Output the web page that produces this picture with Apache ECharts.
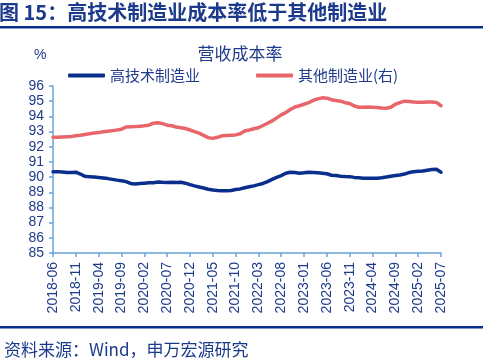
<!DOCTYPE html>
<html><head><meta charset="utf-8">
<script src="https://cdn.jsdelivr.net/npm/echarts@6/dist/echarts.min.js"></script>
<style>html,body{margin:0;padding:0;background:#fff}#c{width:488px;height:358px}</style>
</head><body><div id="c"></div>
<script>
// monthly categories 2018-06 .. 2025-07
const categories = [];
for (let y = 2018, m = 6; y < 2025 || (y === 2025 && m <= 7); ) {
  categories.push(y + '-' + String(m).padStart(2, '0'));
  m++; if (m > 12) { m = 1; y++; }
}
const hiTech = [90.36,90.36,90.34,90.3,90.3,90.32,90.2,90.05,90.03,90.0,
  89.97,89.94,89.9,89.85,89.8,89.76,89.7,89.58,89.55,89.58,
  89.6,89.62,89.63,89.68,89.66,89.65,89.66,89.64,89.66,89.6,
  89.5,89.42,89.35,89.28,89.2,89.15,89.12,89.1,89.1,89.12,
  89.18,89.22,89.3,89.36,89.42,89.5,89.58,89.7,89.85,89.98,
  90.1,90.25,90.32,90.3,90.26,90.28,90.32,90.3,90.28,90.26,
  90.22,90.12,90.1,90.06,90.04,90.03,89.98,89.96,89.93,89.92,
  89.92,89.92,89.95,90.0,90.06,90.1,90.14,90.2,90.3,90.35,
  90.38,90.4,90.45,90.5,90.52,90.32];
const otherMfg = [92.62,92.62,92.64,92.66,92.68,92.72,92.75,92.8,92.86,92.9,
  92.93,92.98,93.02,93.06,93.1,93.15,93.3,93.32,93.33,93.35,
  93.38,93.42,93.55,93.58,93.52,93.42,93.38,93.3,93.25,93.2,
  93.1,93.0,92.9,92.75,92.6,92.55,92.62,92.72,92.74,92.76,
  92.78,92.85,93.04,93.1,93.18,93.25,93.4,93.55,93.7,93.9,
  94.1,94.25,94.45,94.62,94.7,94.8,94.9,95.05,95.15,95.22,
  95.2,95.1,95.05,95.0,94.9,94.85,94.68,94.6,94.6,94.62,
  94.6,94.58,94.55,94.53,94.6,94.8,94.9,95.0,94.98,94.95,
  94.93,94.93,94.95,94.95,94.92,94.7];
const seriesNames = ['高技术制造业', '其他制造业(右)'];
const yMin = 85, yMax = 96;

const navy = '#1F3C8C';
const font = 'Liberation Sans, Arial, Noto Sans CJK SC, sans-serif';
const cjk = 'Noto Sans CJK SC, sans-serif';
const chart = echarts.init(document.getElementById('c'), null, {renderer: 'canvas'});
chart.setOption({
  animation: false,
  backgroundColor: '#fff',
  title: [
    {text: '图 15：高技术制造业成本率低于其他制造业', left: -1, top: 2, padding: 0,
     textStyle: {fontFamily: cjk, fontSize: 20, fontWeight: 'bold', color: '#1C3A8C'}},
    {text: '营收成本率', left: 235, textAlign: 'center', top: 40,
     textStyle: {fontFamily: cjk, fontSize: 17, fontWeight: 'normal', color: navy}},
    {text: '%', left: 29, top: 43,
     textStyle: {fontFamily: font, fontSize: 14, fontWeight: 'normal', color: navy}},
    {text: '资料来源：Wind，申万宏源研究', left: -1, top: 336,
     textStyle: {fontFamily: cjk, fontSize: 17, fontWeight: 'normal', color: '#1C3A8C'}}
  ],
  graphic: [
    {type: 'rect', shape: {x: 0, y: 26, width: 483, height: 2.5}, style: {fill: '#0A2E8C'}},
    {type: 'rect', shape: {x: 0, y: 326, width: 483, height: 2.5}, style: {fill: '#0A2E8C'}}
  ],
  legend: {
    left: 68, top: 68, padding: 0, itemWidth: 37, itemHeight: 4, itemGap: 56, icon: 'roundRect',
    textStyle: {fontFamily: cjk, fontSize: 15, color: navy, padding: [0, 0, 0, 0]},
    data: seriesNames
  },
  grid: {left: 53, right: 47, top: 86, bottom: 105, containLabel: false},
  xAxis: {
    type: 'category', data: categories, boundaryGap: false,
    axisLine: {lineStyle: {color: '#6AA3DA', width: 1.5}},
    axisTick: {interval: 4, length: 4, lineStyle: {color: '#6AA3DA', width: 1.5}},
    axisLabel: {interval: 4, rotate: 90, margin: 9, fontFamily: font, fontSize: 14, color: navy}
  },
  yAxis: [
    {type: 'value', min: yMin, max: yMax, interval: 1,
     splitLine: {show: false},
     axisLine: {show: true, lineStyle: {color: '#6AA3DA', width: 1.5}},
     axisTick: {show: true, length: 4, lineStyle: {color: '#6AA3DA', width: 1.5}},
     axisLabel: {margin: 9, fontFamily: font, fontSize: 14, color: navy}},
    {type: 'value', min: yMin, max: yMax, interval: 1, show: false, splitLine: {show: false}}
  ],
  series: [
    {name: seriesNames[0], type: 'line', data: hiTech, yAxisIndex: 0, showSymbol: false,
     symbol: 'none', color: '#0A2E8C', lineStyle: {width: 3.5, color: '#0A2E8C', cap: 'round', join: 'round'}},
    {name: seriesNames[1], type: 'line', data: otherMfg, yAxisIndex: 1, showSymbol: false,
     symbol: 'none', color: '#E8666A', lineStyle: {width: 3.5, color: '#E8666A', cap: 'round', join: 'round'}}
  ]
});
</script></body></html>
